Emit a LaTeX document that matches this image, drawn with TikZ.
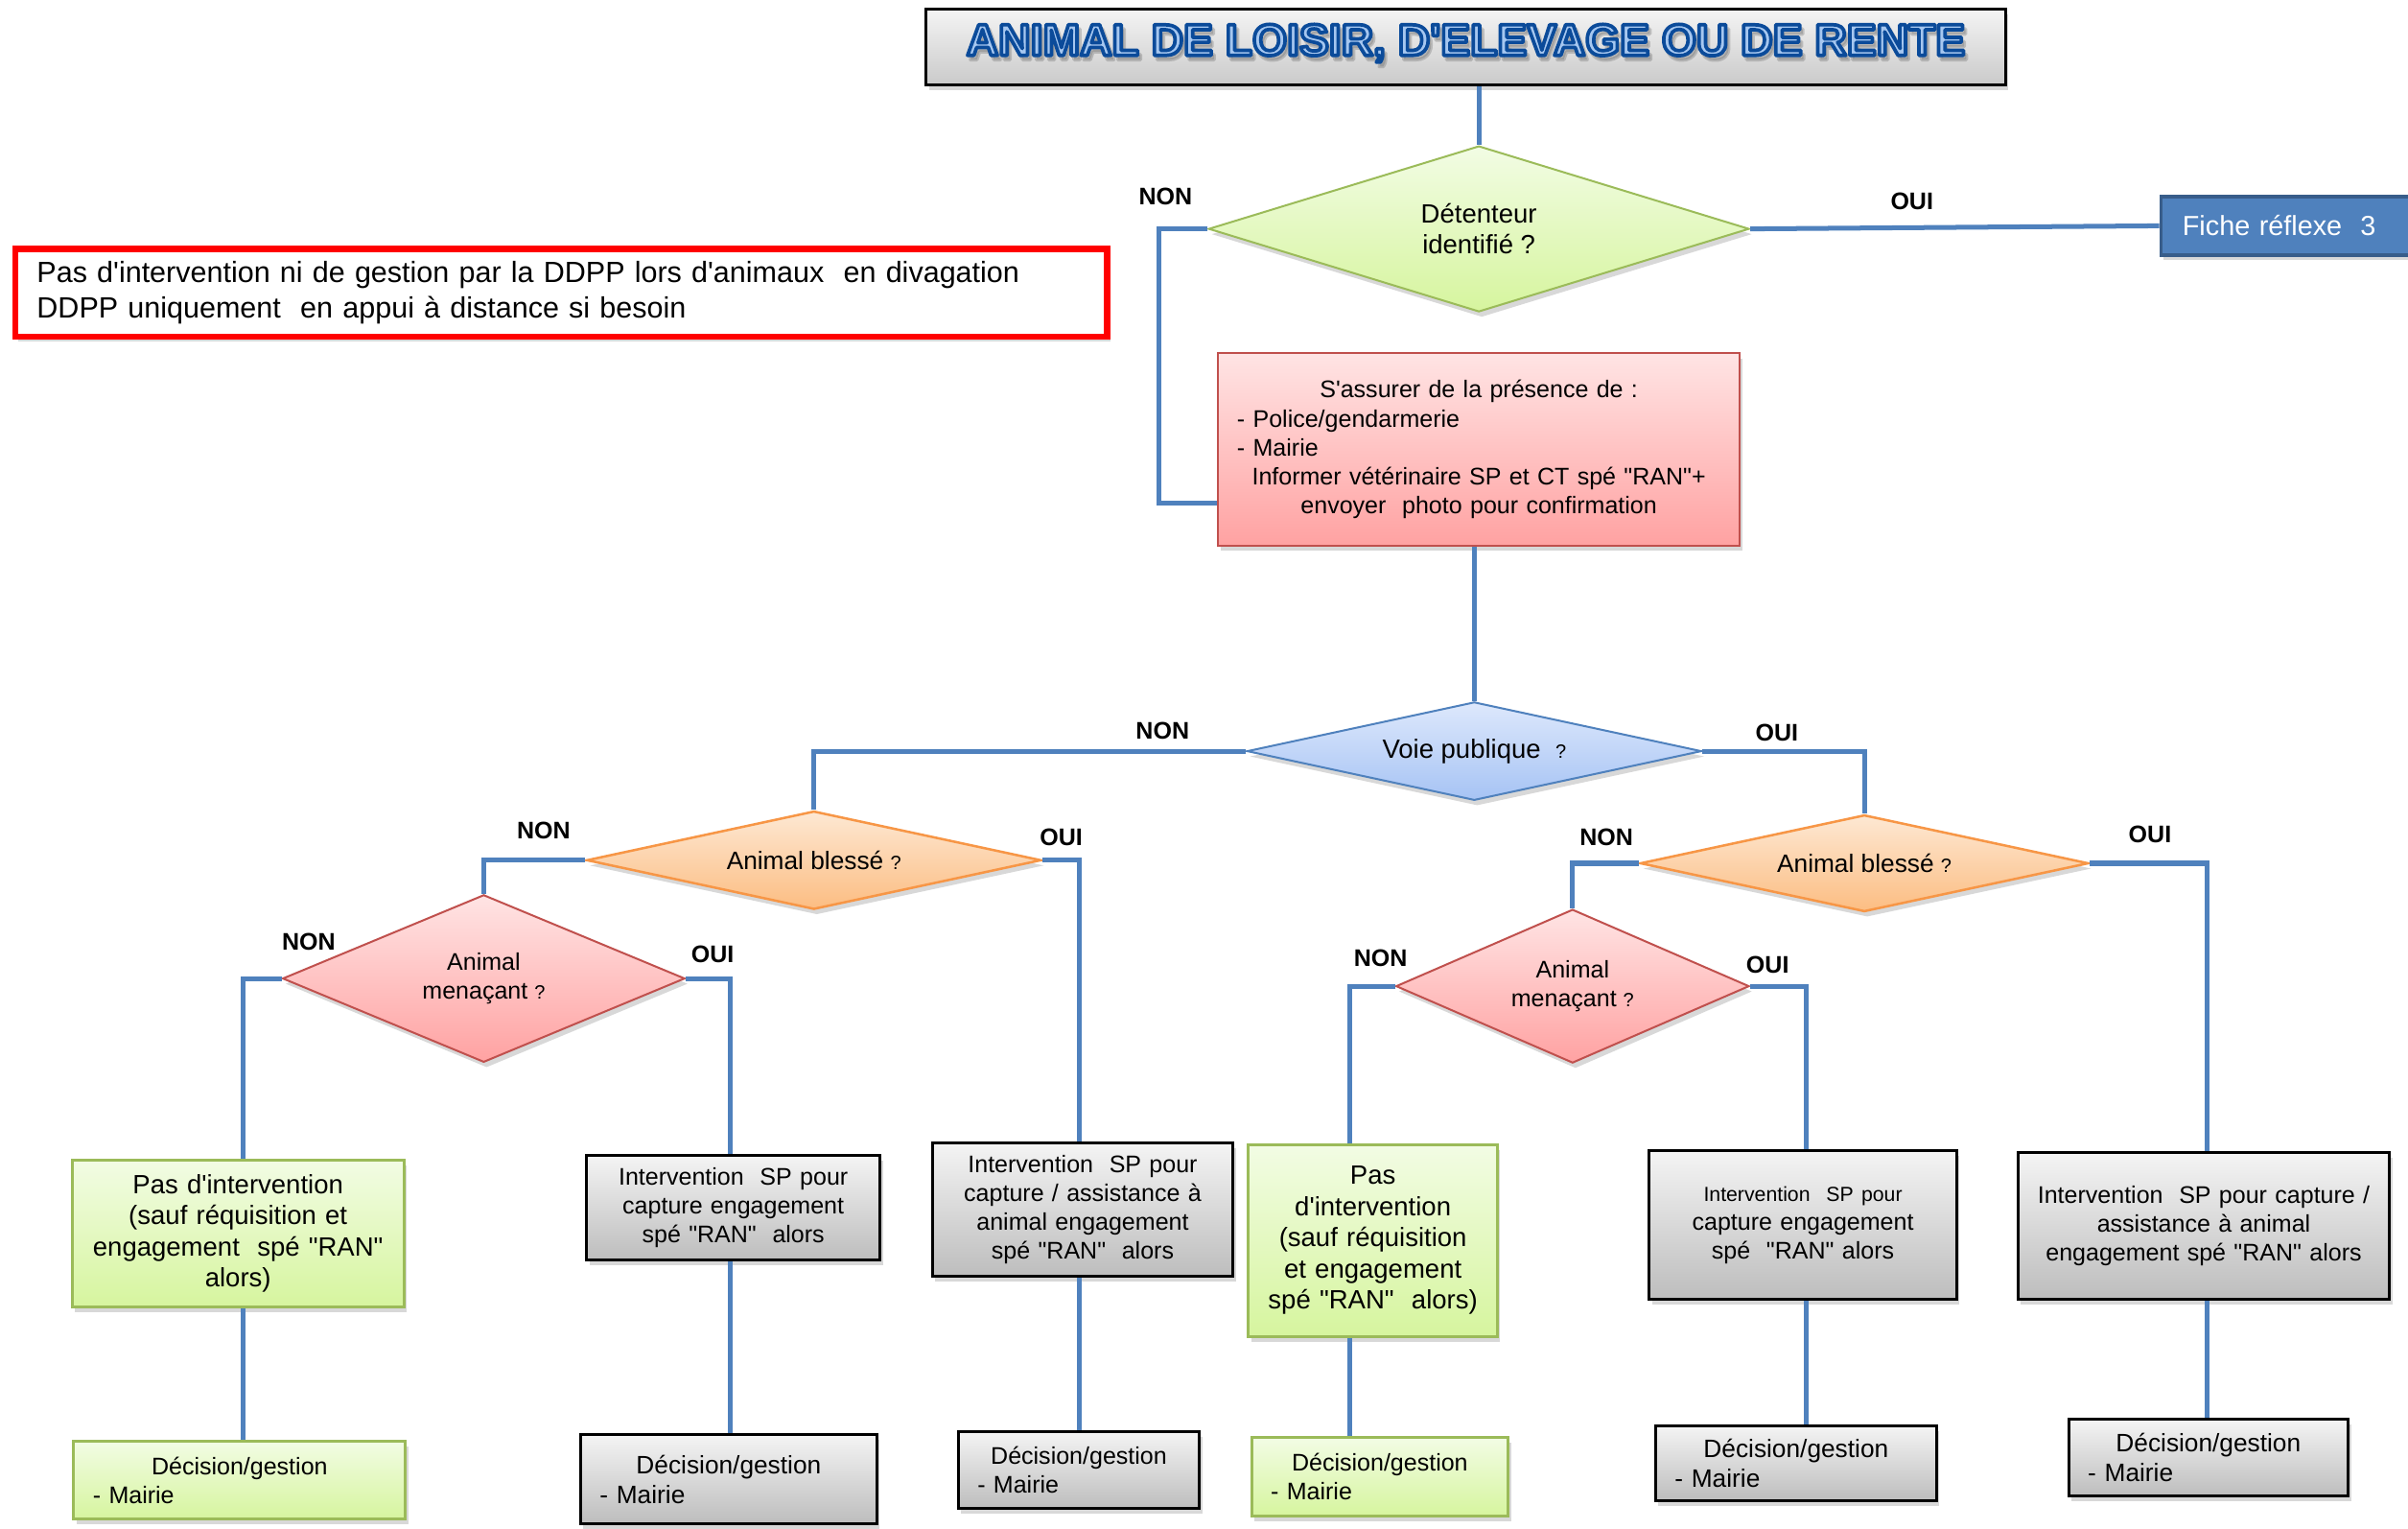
\documentclass[tikz,border=0pt]{standalone}
\usepackage{fontspec}
\setmainfont{Liberation Sans}[Ligatures=TeXOff]
\newfontfamily\titlefont{Liberation Sans Bold}[FakeBold=8]
\usetikzlibrary{shapes.geometric,shadows}

% one drawing unit in points
\newcommand\pxu{0.64pt}

\definecolor{lineblue}{HTML}{4F81BD}
\definecolor{greentop}{HTML}{F2FCE4}
\definecolor{greenbot}{HTML}{D6F59E}
\definecolor{greenborder}{HTML}{9BBB59}
\definecolor{greytop}{HTML}{F4F4F4}
\definecolor{greybot}{HTML}{BDBDBD}
\definecolor{pinktop}{HTML}{FFE4E4}
\definecolor{pinkbot}{HTML}{FFA2A2}
\definecolor{pinkborder}{HTML}{C0504D}
\definecolor{orangetop}{HTML}{FDE8D3}
\definecolor{orangebot}{HTML}{FCBD82}
\definecolor{orangeborder}{HTML}{F79646}
\definecolor{bluetop}{HTML}{DDE8FC}
\definecolor{bluebot}{HTML}{A6C3F4}
\definecolor{ficheborder}{HTML}{385D8A}
\definecolor{titlelight}{HTML}{A6C7F0}

% outlined title lettering: light fill, dark blue stroke with round joins
\newcommand\outlined[1]{{\titlefont\color{titlelight}\special{pdf:literal direct 1 j 1 J 0.043 0.294 0.604 RG}#1}}
% its soft grey shadow
\newcommand\shadowed[1]{{\titlefont\color{black!55}\special{pdf:literal direct 1 j 1 J}#1}}

\tikzset{
  link/.style={draw=lineblue, line width=2pt},
  softshadow/.style={drop shadow={shadow xshift=1.2pt, shadow yshift=-2.2pt, opacity=0.3}},
  sized/.style 2 args={minimum width=#1*\pxu, minimum height=#2*\pxu},
  decision/.style={diamond, aspect=3, inner sep=0pt, align=center, line width=0.8pt, softshadow},
  greendec/.style={decision, draw=greenborder, top color=greentop, bottom color=greenbot},
  bluedec/.style={decision, draw=lineblue, top color=bluetop, bottom color=bluebot},
  orangedec/.style={decision, draw=orangeborder, line width=1pt, top color=orangetop, bottom color=orangebot},
  pinkdec/.style={decision, draw=pinkborder, top color=pinktop, bottom color=pinkbot},
  boxbase/.style 2 args={rectangle, sized={#1}{#2}, inner sep=0pt, text width={#1*\pxu-16pt}, softshadow},
  box/.style 2 args={boxbase={#1}{#2}, align=center},
  greenfill/.style={draw=greenborder, line width=1.2pt, top color=greentop, bottom color=greenbot},
  greyfill/.style={draw=black, line width=1.2pt, top color=greytop, bottom color=greybot},
  pinkfill/.style={draw=pinkborder, line width=0.8pt, top color=pinktop, bottom color=pinkbot},
  yesno/.style={font=\fontsize{10}{12}\selectfont\bfseries},
  txtA/.style={font=\fontsize{11}{13}\selectfont},
  txtB/.style={font=\fontsize{10}{12}\selectfont},
}

\newcommand\smallq{{\fontsize{8}{10}\selectfont ?}}

\begin{document}
\begin{tikzpicture}[x=\pxu, y=-\pxu]
\useasboundingbox[fill=white] (0,0) rectangle (1568,995);

% title
\node[rectangle, sized={703}{49}, draw=black, line width=1.2pt, top color=greytop, bottom color=greybot!80!white, softshadow] (T) at (954.5,30.5) {};
\node[font=\fontsize{18.5}{20}\selectfont, opacity=0.35] (Tshadow) at ([shift={(1.2pt,-0.3pt)}]T.center) {\shadowed{ANIMAL DE LOISIR, D'ELEVAGE OU DE RENTE}};
\node[font=\fontsize{18.5}{20}\selectfont] (Ttext) at ([yshift=1.5pt]T.center) {\outlined{ANIMAL DE LOISIR, D'ELEVAGE OU DE RENTE}};

% note box
\node[rectangle, sized={711}{57}, draw=red, line width=2.5pt, fill=white, inner sep=0pt, text width={683*\pxu}, align=left, font=\fontsize{12.2}{14.7}\selectfont, softshadow] (R) at (365.5,190.5)
  {Pas d'intervention ni de gestion par la DDPP lors d'animaux\ \ en divagation\\DDPP uniquement\ \ en appui à distance si besoin};

% first decision
\node[greendec, sized={352}{108}, txtA] (D1) at (963,149) {Détenteur\\identifié ?};
\node[rectangle, anchor=west, minimum width=175*\pxu, minimum height=38*\pxu, inner xsep=14*\pxu, inner ysep=0pt, text width={147*\pxu}, align=left, fill=lineblue, draw=ficheborder, line width=1.5pt, text=white, font=\fontsize{11.5}{13}\selectfont, softshadow] (F) at (1406,147) {Fiche réflexe\ \ 3};

\node[boxbase={340}{125}, pinkfill, txtB] (P) at (963,292.5)
  {\centering S'assurer de la présence de :\par\raggedright - Police/gendarmerie\par - Mairie\par\centering Informer vétérinaire SP et CT spé "RAN"+\par envoyer\ \ photo pour confirmation\par};

\node[bluedec, sized={296}{64}, txtA] (V) at (960,489) {Voie publique\ \ \smallq};

% left branch
\node[orangedec, sized={296}{64}, font=\fontsize{10.5}{12}\selectfont] (BL) at (530,560) {Animal blessé \smallq};
\node[pinkdec, sized={262}{109}, txtB] (ML) at (315,637) {Animal\\menaçant \smallq};

\node[box={216}{96}, greenfill, txtA] (G1) at (155,803) {Pas d'intervention\\(sauf réquisition et\\engagement\ \ spé "RAN"\\alors)};
\node[boxbase={216}{51}, greenfill, txtB] (DG1) at (156,963.5) {\centering Décision/gestion\par\raggedright - Mairie\par};
\node[box={191}{68}, greyfill, txtB] (I1) at (477.5,786) {Intervention\ \ SP pour\\capture engagement\\spé "RAN"\ \ alors};
\node[boxbase={193}{58}, greyfill, font=\fontsize{10.5}{12.5}\selectfont] (DI1) at (474.5,963) {\centering Décision/gestion\par\raggedright - Mairie\par};
\node[box={196}{87}, greyfill, txtB] (I2) at (705,787.5) {Intervention\ \ SP pour\\capture / assistance à\\animal engagement\\spé "RAN"\ \ alors};
\node[boxbase={157}{50}, greyfill, txtB] (DI2) at (702.5,957) {\centering Décision/gestion\par\raggedright - Mairie\par};

% right branch
\node[orangedec, sized={292}{63}, font=\fontsize{10.5}{12}\selectfont] (BR) at (1214,562) {Animal blessé \smallq};
\node[pinkdec, sized={230}{100}, txtB] (MR) at (1024,642) {Animal\\menaçant \smallq};

\node[box={162}{125}, greenfill, txtA] (G2) at (894,807.5) {Pas\\d'intervention\\(sauf réquisition\\et engagement\\spé "RAN"\ \ alors)};
\node[boxbase={167}{51}, greenfill, txtB] (DG2) at (898.5,961.5) {\centering Décision/gestion\par\raggedright - Mairie\par};
\node[box={200}{97}, greyfill, txtB] (I3) at (1174,797.5) {{\fontsize{8.5}{10}\selectfont Intervention\ \ SP pour}\\capture engagement\\spé\ \ "RAN" alors};
\node[boxbase={183}{49}, greyfill, font=\fontsize{10.5}{12.5}\selectfont] (DI3) at (1169.5,952.5) {\centering Décision/gestion\par\raggedright - Mairie\par};
\node[rectangle, sized={242}{96}, inner sep=0pt, text width={238*\pxu}, align=center, softshadow, greyfill, txtB] (I4) at (1435,798) {Intervention\ \ SP pour capture /\\assistance à animal\\engagement spé "RAN" alors};
\node[boxbase={182}{50}, greyfill, font=\fontsize{10.5}{12.5}\selectfont] (DI4) at (1438,949) {\centering Décision/gestion\par\raggedright - Mairie\par};

% connectors
\draw[link] (D1.north) -- (D1.north |- T.south);
\draw[link] (D1.west) -- ++(-32,0) |- ([yshift=28*\pxu]P.south west);
\draw[link] (D1.east) -- (F.west);
\draw[link] (V.north) -- (V.north |- P.south);
\draw[link] (V.west) -| (BL.north);
\draw[link] (V.east) -| (BR.north);
\draw[link] (BL.west) -| (ML.north);
\draw[link] (BL.east) -| ([xshift=-2*\pxu]I2.north);
\draw[link] (ML.west) -| ([xshift=3*\pxu]G1.north);
\draw[link] (ML.east) -| ([xshift=-2*\pxu]I1.north);
\draw[link] ([xshift=3*\pxu]G1.south) -- ([xshift=3*\pxu]G1.south |- DG1.north);
\draw[link] ([xshift=-2*\pxu]I1.south) -- ([xshift=-2*\pxu]I1.south |- DI1.north);
\draw[link] ([xshift=-2*\pxu]I2.south) -- ([xshift=-2*\pxu]I2.south |- DI2.north);
\draw[link] (BR.west) -| (MR.north);
\draw[link] (BR.east) -| ([xshift=2*\pxu]I4.north);
\draw[link] (MR.west) -| ([xshift=-15*\pxu]G2.north);
\draw[link] (MR.east) -| ([xshift=2*\pxu]I3.north);
\draw[link] ([xshift=-15*\pxu]G2.south) -- ([xshift=-15*\pxu]G2.south |- DG2.north);
\draw[link] ([xshift=2*\pxu]I3.south) -- ([xshift=2*\pxu]I3.south |- DI3.north);
\draw[link] ([xshift=2*\pxu]I4.south) -- ([xshift=2*\pxu]I4.south |- DI4.north);

% branch labels
\node[yesno] (n1) at (759,128) {NON};
\node[yesno] (o1) at (1245,131) {OUI};
\node[yesno] (n2) at (757,476) {NON};
\node[yesno] (o2) at (1157,477) {OUI};
\node[yesno] (n3) at (354,541) {NON};
\node[yesno] (o3) at (691,545) {OUI};
\node[yesno] (n4) at (201,613) {NON};
\node[yesno] (o4) at (464,621) {OUI};
\node[yesno] (n5) at (1046,545) {NON};
\node[yesno] (o5) at (1400,543) {OUI};
\node[yesno] (n6) at (899,624) {NON};
\node[yesno] (o6) at (1151,628) {OUI};
\end{tikzpicture}
\end{document}
